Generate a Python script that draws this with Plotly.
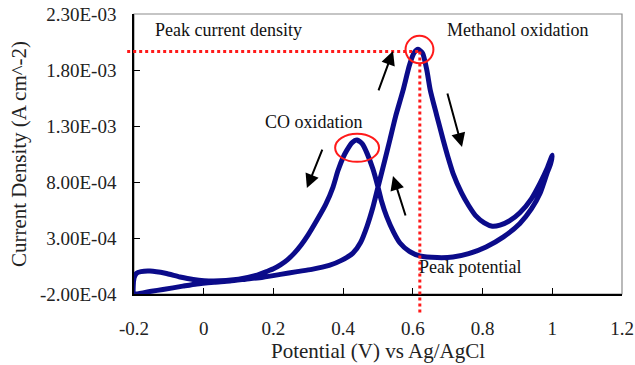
import plotly.graph_objects as go

# ---- data (potential in V, current density in 1e-3 A cm^-2) ----
potential = [
    -0.200, -0.150, -0.117, -0.060, -0.020, 0.030, 0.075, 0.120, 0.170, 0.220,
    0.268, 0.310, 0.360, 0.395, 0.428, 0.450, 0.468, 0.485, 0.500, 0.520,
    0.534, 0.550, 0.572, 0.590, 0.603, 0.615, 0.628, 0.640, 0.650, 0.668,
    0.687, 0.700, 0.715, 0.740, 0.760, 0.780, 0.805, 0.828, 0.850, 0.878,
    0.907, 0.940, 0.965, 0.985, 1.000,
    0.995, 0.985, 0.965, 0.940, 0.907, 0.860, 0.810, 0.760, 0.715, 0.670,
    0.620, 0.590, 0.563, 0.545, 0.525, 0.510, 0.500, 0.485, 0.468, 0.455,
    0.440, 0.425, 0.410, 0.400, 0.385, 0.371, 0.350, 0.325, 0.300, 0.280,
    0.260, 0.240, 0.220, 0.200, 0.180, 0.150, 0.100, 0.027, -0.030, -0.068,
    -0.110, -0.154, -0.180, -0.193, -0.200, -0.200,
]
current_mA = [
    -0.195, -0.175, -0.160, -0.130, -0.110, -0.095, -0.084, -0.068, -0.050, -0.025,
    0.000, 0.020, 0.055, 0.100, 0.165, 0.260, 0.400, 0.570, 0.755, 1.000,
    1.175, 1.380, 1.620, 1.840, 1.950, 1.985, 1.950, 1.800, 1.620, 1.400,
    1.175, 1.030, 0.880, 0.700, 0.590, 0.500, 0.435, 0.405, 0.415, 0.455,
    0.525, 0.650, 0.790, 0.920, 1.040,
    0.960, 0.880, 0.700, 0.560, 0.430, 0.310, 0.220, 0.160, 0.130, 0.125,
    0.140, 0.180, 0.255, 0.350, 0.490, 0.630, 0.755, 0.920, 1.060, 1.140,
    1.175, 1.150, 1.080, 1.020, 0.900, 0.755, 0.600, 0.460, 0.330, 0.240,
    0.165, 0.105, 0.060, 0.025, 0.000, -0.035, -0.068, -0.084, -0.070, -0.048,
    -0.015, 0.005, 0.000, -0.015, -0.060, -0.195,
]
current = [v * 1e-3 for v in current_mA]

x_ticks = [-0.2, 0, 0.2, 0.4, 0.6, 0.8, 1.0, 1.2]
x_tick_labels = ["-0.2", "0", "0.2", "0.4", "0.6", "0.8", "1", "1.2"]
y_ticks = [-2.0e-4, 3.0e-4, 8.0e-4, 1.3e-3, 1.8e-3, 2.3e-3]
y_tick_labels = ["-2.00E-04", "3.00E-04", "8.00E-04", "1.30E-03", "1.80E-03", "2.30E-03"]

peak_potential = 0.62       # V
peak_current = 1.965e-3     # A cm^-2
co_peak_potential = 0.44
co_peak_current = 1.175e-3

X_RANGE = [-0.2, 1.2]
Y_RANGE = [-2.0e-4, 2.3e-3]

FONT = "Liberation Serif, Times New Roman, serif"
BLUE = "#0b0b8a"
RED = "#ff1a1a"


def xpaper(v):
    return (v - X_RANGE[0]) / (X_RANGE[1] - X_RANGE[0])


def ypaper(v):
    return (v - Y_RANGE[0]) / (Y_RANGE[1] - Y_RANGE[0])


fig = go.Figure()
fig.add_trace(go.Scatter(
    x=potential, y=current, mode="lines",
    line=dict(color=BLUE, width=5, shape="spline", smoothing=0.6),
    showlegend=False, hoverinfo="skip",
))

shapes = [
    # grey frame
    dict(type="rect", xref="paper", yref="paper", x0=0, y0=0, x1=1, y1=1,
         line=dict(color="#8c8c8c", width=1.2), layer="below"),
    # dotted guide lines to the methanol peak
    dict(type="line", xref="paper", yref="paper",
         x0=-0.014, x1=xpaper(peak_potential),
         y0=ypaper(peak_current), y1=ypaper(peak_current),
         line=dict(color=RED, width=3, dash="dot")),
    dict(type="line", xref="paper", yref="paper",
         x0=xpaper(peak_potential), x1=xpaper(peak_potential),
         y0=ypaper(peak_current), y1=-0.068,
         line=dict(color=RED, width=3, dash="dot")),
    # circles around the two peaks
    dict(type="circle", xref="x", yref="y",
         x0=co_peak_potential - 0.063, x1=co_peak_potential + 0.063,
         y0=co_peak_current - 0.195e-3, y1=co_peak_current + 0.055e-3,
         line=dict(color=RED, width=2)),
    dict(type="circle", xref="x", yref="y",
         x0=peak_potential - 0.041, x1=peak_potential + 0.039,
         y0=peak_current - 0.105e-3, y1=peak_current + 0.14e-3,
         line=dict(color=RED, width=2)),
]

annotations = [
    dict(x=-0.1455, y=2.157e-3, text="Peak current density"),
    dict(x=0.692, y=2.157e-3, text="Methanol oxidation"),
    dict(x=0.17, y=1.336e-3, text="CO oxidation"),
    dict(x=0.612, y=0.041e-3, text="Peak potential"),
]
for a in annotations:
    a.update(xref="x", yref="y", xanchor="left", yanchor="middle",
             showarrow=False, font=dict(family=FONT, size=18, color="#111"))

arrows = [
    (0.543, 1.970e-3, -15, 41),
    (0.741, 1.1125e-3, -15, -55),
    (0.296, 0.746e-3, 16, -40),
    (0.543, 0.854e-3, 13, 41),
]
for (hx, hy, ax, ay) in arrows:
    annotations.append(dict(
        x=hx, y=hy, xref="x", yref="y", ax=ax, ay=ay, text="",
        showarrow=True, arrowhead=2, arrowsize=1.4, arrowwidth=2,
        arrowcolor="#000000", standoff=0,
    ))

fig.update_layout(
    width=635, height=365,
    margin=dict(l=134, r=13, t=14, b=71),
    paper_bgcolor="white", plot_bgcolor="white",
    font=dict(family=FONT, size=19, color="#222"),
    shapes=shapes, annotations=annotations,
    xaxis=dict(
        range=X_RANGE, tickvals=x_ticks, ticktext=x_tick_labels,
        ticks="inside", ticklen=6, tickcolor="#000", tickwidth=1,
        showline=True, linecolor="#000", linewidth=1.5, mirror=False,
        showgrid=False, zeroline=False, automargin=False,
        ticklabelstandoff=16,
        tickfont=dict(family=FONT, size=19, color="#222"),
        title=dict(text="Potential (V) vs Ag/AgCl", standoff=6,
                   font=dict(family=FONT, size=21, color="#222")),
    ),
    yaxis=dict(
        range=Y_RANGE, tickvals=y_ticks, ticktext=y_tick_labels,
        ticks="inside", ticklen=6, tickcolor="#000", tickwidth=1,
        showline=True, linecolor="#000", linewidth=1.5, mirror=False,
        showgrid=False, zeroline=False, automargin=False,
        ticklabelstandoff=12,
        tickfont=dict(family=FONT, size=19, color="#222"),
        title=dict(text="Current Density (A cm^-2)", standoff=8,
                   font=dict(family=FONT, size=21, color="#222")),
    ),
)

fig.write_html("out.html")
